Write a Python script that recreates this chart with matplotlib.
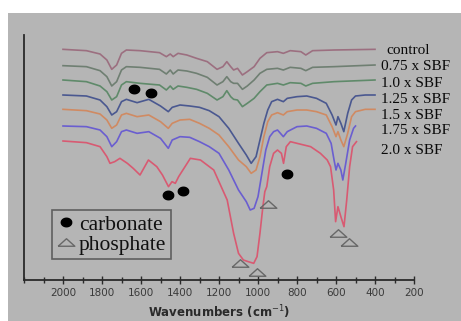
import matplotlib
matplotlib.use("Agg")
import matplotlib.pyplot as plt
from matplotlib.lines import Line2D
from matplotlib.patches import Rectangle
from matplotlib.ticker import FixedLocator, MultipleLocator
import numpy as np

# FTIR spectra.
# x: wavenumber (cm-1), y: depth of the trace in arbitrary units (bigger = lower transmittance)
w_top = [2000, 1880, 1810, 1775, 1750, 1725, 1700, 1675, 1605, 1505, 1470, 1450, 1435, 1410, 1365, 1315,
         1260, 1210, 1180, 1160, 1140, 1125, 1105, 1080, 1055, 1020, 990, 955, 900, 870, 835, 780, 755,
         720, 610, 400]
control = [148, 152, 162, 180, 208, 195, 160, 150, 152, 158, 170, 162, 170, 160, 165, 175,
           185, 208, 200, 185, 200, 210, 205, 225, 215, 200, 175, 158, 155, 160, 152, 155, 165,
           152, 150, 148]
sbf_075 = [197, 200, 212, 230, 258, 245, 210, 200, 202, 208, 222, 210, 222, 210, 213, 220,
           232, 255, 245, 230, 245, 250, 250, 268, 258, 240, 220, 208, 205, 210, 202, 205, 212,
           202, 200, 195]
sbf_10 = [240, 245, 258, 275, 300, 290, 255, 245, 250, 255, 270, 258, 268, 258, 262, 268,
          280, 300, 290, 272, 290, 298, 300, 320, 310, 295, 275, 255, 250, 255, 248, 250, 258,
          250, 245, 240]

w_mid = [2000, 1880, 1810, 1775, 1750, 1725, 1700, 1675, 1620, 1560, 1500, 1460, 1440, 1400, 1350,
         1300, 1250, 1200, 1150, 1100, 1060, 1035, 1010, 990, 970, 950, 930, 900, 870, 850,
         800, 750, 700, 650, 620, 600, 590, 575, 560, 540, 520, 500, 450, 400]
sbf_125 = [285, 288, 300, 320, 345, 335, 305, 298, 308, 298, 318, 335, 322, 315, 318,
           322, 332, 350, 385, 430, 465, 490, 470, 420, 370, 330, 305, 298, 305, 295,
           290, 288, 295, 310, 345, 375, 350, 370, 395, 340, 300, 288, 285, 285]
sbf_15 = [328, 332, 342, 360, 385, 375, 345, 340, 350, 345, 365, 385, 370, 360, 358,
          370, 385, 405, 440, 480, 500, 520, 510, 470, 410, 365, 345, 338, 345, 335,
          330, 330, 335, 345, 380, 410, 395, 420, 440, 400, 350, 335, 328, 328]

w_175 = [2000, 1880, 1810, 1775, 1750, 1725, 1700, 1675, 1620, 1560, 1500, 1460, 1440, 1400, 1350,
         1300, 1250, 1200, 1150, 1100, 1060, 1040, 1020, 1000, 980, 960, 940, 920, 900, 870,
         850, 800, 750, 700, 650, 625, 610, 600, 590, 575, 565, 550, 530, 510, 500]
sbf_175 = [378, 380, 390, 410, 440, 425, 395, 390, 400, 395, 415, 445, 420, 410, 412,
           425, 440, 460, 510, 570, 605, 630, 625, 590, 520, 450, 410, 395, 390, 410,
           395, 380, 378, 385, 400, 430, 480, 510, 490, 510, 540, 490, 420, 385, 378]

w_20 = [2000, 1880, 1810, 1775, 1759, 1735, 1708, 1670, 1640, 1605, 1562, 1519, 1490, 1459, 1441,
        1424, 1407, 1347, 1295, 1227, 1158, 1125, 1100, 1075, 1050, 1022, 1005, 990, 975, 965,
        955, 940, 920, 900, 880, 869, 855, 834, 800, 730, 680, 645, 628, 612, 602,
        590, 575, 559, 545, 530, 515, 495]
sbf_20 = [423, 428, 440, 470, 490, 485, 475, 490, 505, 525, 480, 500, 525, 560, 545,
          550, 530, 475, 480, 510, 600, 700, 760, 780, 785, 790, 770, 700, 620, 575,
          560, 500, 460, 450, 460, 490, 440, 425, 430, 440, 460, 480, 500, 570, 665,
          620, 650, 680, 600, 500, 440, 425]

names = ["control", "0.75 x SBF", "1.0 x SBF", "1.25 x SBF", "1.5 x SBF", "1.75 x SBF", "2.0 x SBF"]

# band assignments
carbonate_w = [1634, 1550, 1464, 1383, 852]
carbonate_y = [267, 280, 585, 573, 522]
phosphate_w = [1093, 1007, 948, 588, 531]
phosphate_y = [790, 815, 612, 700, 727]

spectra = [(w_top, control), (w_top, sbf_075), (w_top, sbf_10), (w_mid, sbf_125),
           (w_mid, sbf_15), (w_175, sbf_175), (w_20, sbf_20)]
colors = ['#9c6f80', '#6f7f72', '#5f8a6a', '#4a5890', '#d08a62', '#6a5ed0', '#d85a72']
# where the name labels sit (wavenumber, depth)
label_pos = [(342, 150), (368, 198), (368, 250), (368, 298), (368, 346), (368, 393), (368, 453)]

W, H = 461, 321
fig = plt.figure(figsize=(W / 100, H / 100), dpi=100, facecolor='white')
fig.patches.append(Rectangle((8 / W, 0), 1, 1 - 13 / H, transform=fig.transFigure,
                             facecolor='#b5b5b5', edgecolor='none', zorder=-10))

ax = fig.add_axes([24 / W, 1 - 280 / H, 390 / W, 245 / H])
ax.patch.set_visible(False)

for (w, y), c in zip(spectra, colors):
    ax.plot(w, y, color=c, lw=1.2)

ell = [(np.cos(t), 0.82 * np.sin(t)) for t in np.linspace(0, 2 * np.pi, 40)]
tri = [(-1, -0.45), (1, -0.45), (0, 0.45), (-1, -0.45)]
ax.plot(carbonate_w, carbonate_y, ls='none', marker=ell, ms=7.5, color='black')
ax.plot(phosphate_w, phosphate_y, ls='none', marker=tri, ms=12, mfc='none',
        mec='#686868', mew=1.0)

for name, (lx, ly) in zip(names, label_pos):
    ax.text(lx, ly, name, ha='left', va='center', fontsize=11,
            family='Liberation Serif', color='#0a0a0a')

ax.set_xlim(2200, 200)
ax.set_ylim(840, 105)

for s in ['top', 'right']:
    ax.spines[s].set_visible(False)
for s in ['left', 'bottom']:
    ax.spines[s].set_color('#2a2a2a')
    ax.spines[s].set_linewidth(1.3)

ax.set_yticks([])
ax.xaxis.set_major_locator(FixedLocator(range(200, 2001, 200)))
ax.xaxis.set_minor_locator(MultipleLocator(100))
ax.tick_params(axis='x', which='major', direction='inout', length=6, width=1,
               color='#2a2a2a', labelsize=7.5, labelcolor='#3a3a3a', pad=3)
ax.tick_params(axis='x', which='minor', direction='inout', length=4, width=1, color='#2a2a2a')
ax.set_xlabel("Wavenumbers (cm$^{-1}$)", fontsize=8.5, fontweight='bold', color='#2a2a2a',
              labelpad=4)

handles = [Line2D([], [], ls='none', marker=ell, ms=7.5, color='black'),
           Line2D([], [], ls='none', marker=tri, ms=12, mfc='none', mec='#686868', mew=1.0)]
leg = ax.legend(handles, ["carbonate", "phosphate"], loc='lower left',
                bbox_to_anchor=(28 / 390, 21 / 245), borderaxespad=0,
                prop=dict(family='Liberation Serif', size=15.5), frameon=True, fancybox=False,
                edgecolor='#4a4a4a', facecolor='none',
                handlelength=0.9, handletextpad=0.15, labelspacing=0.0, borderpad=0.2)
leg.get_frame().set_linewidth(1.2)
for t in leg.get_texts():
    t.set_color('#101010')

fig.savefig("out.png", dpi=100, facecolor=fig.get_facecolor())
